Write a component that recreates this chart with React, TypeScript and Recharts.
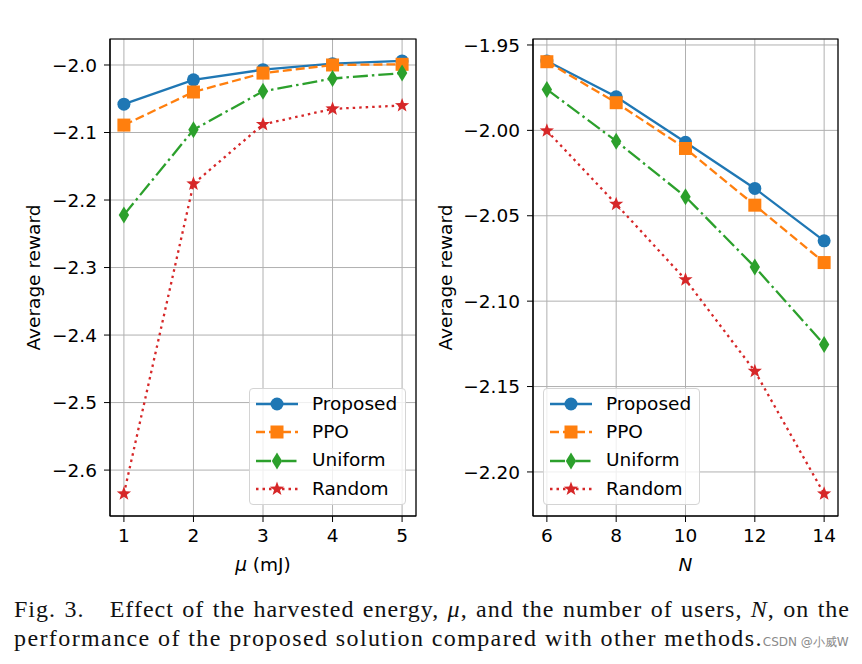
import React from 'react';
import { LineChart, Line, XAxis, YAxis, CartesianGrid, Legend, ReferenceArea } from 'recharts';

// left panel: harvested energy mu (mJ)
const muValues = [1, 2, 3, 4, 5];
const muProposed = [-2.058, -2.022, -2.007, -1.998, -1.994];
const muPPO = [-2.089, -2.04, -2.012, -2.0, -1.999];
const muUniform = [-2.222, -2.096, -2.039, -2.02, -2.012];
const muRandom = [-2.635, -2.176, -2.088, -2.065, -2.06];
const muYTicks = [-2.6, -2.5, -2.4, -2.3, -2.2, -2.1, -2.0];

// right panel: number of users N
const userCounts = [6, 8, 10, 12, 14];
const nProposed = [-1.9594, -1.9803, -2.007, -2.034, -2.0647];
const nPPO = [-1.9598, -1.9838, -2.0106, -2.0438, -2.0774];
const nUniform = [-1.976, -2.0063, -2.0389, -2.08, -2.1254];
const nRandom = [-2.0002, -2.0432, -2.0874, -2.141, -2.2128];
const nYTicks = [-2.2, -2.15, -2.1, -2.05, -2.0, -1.95];

const SERIES = [
  { key: 'Proposed', color: '#1f77b4', dash: undefined, marker: 'circle' },
  { key: 'PPO', color: '#ff7f0e', dash: '9 4', marker: 'square' },
  { key: 'Uniform', color: '#2ca02c', dash: '15 4 2.5 4', marker: 'diamond' },
  { key: 'Random', color: '#d62728', dash: '2.5 4', marker: 'star' },
];

const FONT = '"DejaVu Sans", sans-serif';
const SERIF = '"Liberation Serif", "Times New Roman", serif';
const FS = 18.5;

const buildRows = (xs: number[], a: number[], b: number[], c: number[], d: number[]) =>
  xs.map((x, i) => ({ x, Proposed: a[i], PPO: b[i], Uniform: c[i], Random: d[i] }));

const muData = buildRows(muValues, muProposed, muPPO, muUniform, muRandom);
const nData = buildRows(userCounts, nProposed, nPPO, nUniform, nRandom);

const minus = (s: string) => s.replace('-', '\u2212');

function Marker({ kind, cx, cy, color }: { kind: string; cx: number; cy: number; color: string }) {
  if (kind === 'circle') return <circle cx={cx} cy={cy} r={6.5} fill={color} />;
  if (kind === 'square') return <rect x={cx - 6.5} y={cy - 6.5} width={13} height={13} fill={color} />;
  if (kind === 'diamond')
    return <polygon points={`${cx},${cy - 8.5} ${cx + 5.2},${cy} ${cx},${cy + 8.5} ${cx - 5.2},${cy}`} fill={color} />;
  const pts: string[] = [];
  for (let k = 0; k < 10; k++) {
    const r = k % 2 === 0 ? 7.5 : 3.1;
    const a = -Math.PI / 2 + (k * Math.PI) / 5;
    pts.push(`${cx + r * Math.cos(a)},${cy + r * Math.sin(a)}`);
  }
  return <polygon points={pts.join(' ')} fill={color} />;
}

const makeDot = (kind: string, color: string) => (props: any) => {
  const { cx, cy, index } = props;
  if (cx == null || cy == null) return <g key={`e-${index}`} />;
  return <Marker key={`${kind}-${index}`} kind={kind} cx={cx} cy={cy} color={color} />;
};

const LegendBox = () => (
  <div
    style={{
      width: '100%',
      height: '100%',
      boxSizing: 'border-box',
      border: '1px solid #d4d4d4',
      borderRadius: 4,
      background: 'rgba(255,255,255,0.8)',
      paddingTop: 1,
      fontFamily: FONT,
      fontSize: FS,
    }}
  >
    {SERIES.map((s) => (
      <div key={s.key} style={{ display: 'flex', alignItems: 'center', height: 28.3 }}>
        <svg width={42} height={20} style={{ marginLeft: 6, marginRight: 14 }}>
          <line x1={0} y1={10} x2={42} y2={10} stroke={s.color} strokeWidth={2.3} strokeDasharray={s.dash} />
          <Marker kind={s.marker} cx={21} cy={10} color={s.color} />
        </svg>
        <span style={{ color: '#000', lineHeight: 1 }}>{s.key}</span>
      </div>
    ))}
  </div>
);

type PanelProps = {
  data: any[];
  width: number;
  margin: { top: number; right: number; left: number; bottom: number };
  yAxisWidth: number;
  xDomain: [number, number];
  xTicks: number[];
  yDomain: [number, number];
  yTicks: number[];
  digits: number;
  xLabel: React.ReactNode;
  yLabelX: number;
  legendLeft: number;
};

function Panel(p: PanelProps) {
  const tick = { fill: '#000', fontSize: FS, fontFamily: FONT };
  return (
    <LineChart width={p.width} height={600} data={p.data} margin={p.margin}>
      <CartesianGrid stroke="#b0b0b0" strokeWidth={1} />
      <XAxis
        dataKey="x"
        type="number"
        domain={p.xDomain}
        ticks={p.xTicks}
        allowDataOverflow
        height={60}
        tickSize={6}
        tickMargin={7}
        tick={tick}
        stroke="#000"
        tickLine={{ stroke: '#000' }}
        label={({ viewBox }: any) => (
          <text
            x={viewBox.x + viewBox.width / 2}
            y={viewBox.y + 48}
            textAnchor="middle"
            dominantBaseline="central"
            fontSize={FS}
            fontFamily={FONT}
            fill="#000"
          >
            {p.xLabel}
          </text>
        )}
      />
      <YAxis
        type="number"
        domain={p.yDomain}
        ticks={p.yTicks}
        allowDataOverflow
        width={p.yAxisWidth}
        tickSize={6}
        tickMargin={7}
        tick={tick}
        stroke="#000"
        tickLine={{ stroke: '#000' }}
        tickFormatter={(v: number) => minus(v.toFixed(p.digits))}
        label={({ viewBox }: any) => {
          const cx = viewBox.x + p.yLabelX;
          const cy = viewBox.y + viewBox.height / 2;
          return (
            <text
              x={cx}
              y={cy}
              transform={`rotate(-90 ${cx} ${cy})`}
              textAnchor="middle"
              dominantBaseline="central"
              fontSize={FS}
              fontFamily={FONT}
              fill="#000"
            >
              Average reward
            </text>
          );
        }}
      />
      <ReferenceArea
        x1={p.xDomain[0]}
        x2={p.xDomain[1]}
        y1={p.yDomain[0]}
        y2={p.yDomain[1]}
        fill="none"
        fillOpacity={0}
        stroke="#000"
        strokeWidth={1.2}
      />
      {SERIES.map((s) => (
        <Line
          key={s.key}
          dataKey={s.key}
          name={s.key}
          stroke={s.color}
          strokeWidth={2.3}
          strokeDasharray={s.dash}
          dot={makeDot(s.marker, s.color)}
          activeDot={false}
          isAnimationActive={false}
        />
      ))}
      <Legend
        layout="vertical"
        align="center"
        verticalAlign="middle"
        content={() => <LegendBox />}
        wrapperStyle={{ left: p.legendLeft, top: 388, width: 157, height: 117 }}
      />
    </LineChart>
  );
}

export default function App() {
  return (
    <div style={{ position: 'relative', width: 862, height: 664, background: '#fff', overflow: 'hidden' }}>
      <style>{'body{margin:0}'}</style>
      <div style={{ position: 'absolute', left: 0, top: 0 }}>
        <Panel
          data={muData}
          width={430}
          margin={{ top: 39, right: 14, left: 0, bottom: 24 }}
          yAxisWidth={110}
          xDomain={[0.8, 5.2]}
          xTicks={muValues}
          yDomain={[-2.668, -1.9615]}
          yTicks={muYTicks}
          digits={1}
          xLabel={
            <>
              <tspan fontStyle="italic">μ</tspan> (mJ)
            </>
          }
          yLabelX={33}
          legendLeft={249}
        />
      </div>
      <div style={{ position: 'absolute', left: 430, top: 0 }}>
        <Panel
          data={nData}
          width={432}
          margin={{ top: 39, right: 24, left: 0, bottom: 24 }}
          yAxisWidth={103}
          xDomain={[5.6, 14.4]}
          xTicks={userCounts}
          yDomain={[-2.2258, -1.9465]}
          yTicks={nYTicks}
          digits={2}
          xLabel={<tspan fontStyle="italic">N</tspan>}
          yLabelX={15}
          legendLeft={113}
        />
      </div>
      <div
        style={{
          position: 'absolute',
          left: 14,
          top: 595,
          width: 836,
          fontFamily: SERIF,
          fontSize: 24,
          lineHeight: '29px',
          color: '#111',
        }}
      >
        <div style={{ textAlign: 'justify', textAlignLast: 'justify', letterSpacing: '1px' }}>
          Fig. 3.&nbsp;&nbsp; Effect of the harvested energy, <i>μ</i>, and the number of users, <i>N</i>, on the
        </div>
        <div style={{ whiteSpace: 'nowrap', letterSpacing: '1.4px' }}>
          performance of the proposed solution compared with other methods.
          <span style={{ fontFamily: FONT, fontSize: 12, color: '#8a8a8a', letterSpacing: 0, marginLeft: 0 }}>
            CSDN @小威W
          </span>
        </div>
      </div>
    </div>
  );
}
